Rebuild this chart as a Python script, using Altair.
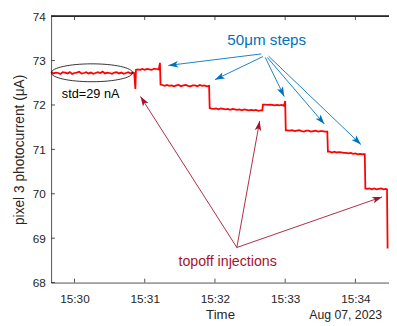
import math
import altair as alt
import pandas as pd

# ---------------- data ----------------
# time in seconds relative to 15:30:00, current in uA
time_s = [
    -20, -18, -16, -14, -12, -10, -8, -6, -4, -2, 0, 2, 4, 6, 8, 10, 12, 14,
    16, 18, 20, 22, 24, 26, 28, 30, 32, 34, 36, 38, 40, 42, 44, 46, 48, 50,
    51, 52, 52.5,
    54, 56, 58, 60, 62, 64, 66, 68, 70, 72,
    73, 73.5,
    75, 77, 79, 81, 83, 85, 87, 89, 91, 93, 95, 97, 99, 101, 103, 105, 107, 109, 111, 113,
    115, 115.5,
    117, 119, 121, 123, 125, 127, 129, 131, 133, 135, 137, 139, 141, 143, 145, 147, 149,
    151, 153, 155, 157, 159,
    160.5, 161,
    163, 165, 167, 169, 171, 173, 175, 177, 179,
    180, 180.5,
    182, 184, 186, 188, 190, 192, 194, 196, 198, 200, 202, 204, 206, 208, 210, 212, 214,
    216, 216.5,
    218, 220, 222, 224, 226, 228, 230, 232, 234, 236, 238, 240, 242, 244, 246,
    248, 248.5,
    250, 252, 254, 256, 258, 260, 262, 264, 266,
    267, 267.5,
]
current_uA = [
    72.74, 72.71, 72.73, 72.72, 72.70, 72.74, 72.73, 72.71, 72.74, 72.70, 72.72, 72.73,
    72.75, 72.71, 72.72, 72.74, 72.71, 72.73, 72.70, 72.72, 72.74, 72.72, 72.75, 72.71,
    72.73, 72.72, 72.70, 72.73, 72.74, 72.71, 72.73, 72.70, 72.72, 72.74, 72.71, 72.73,
    72.72, 72.36, 72.79,
    72.80, 72.79, 72.81, 72.79, 72.81, 72.80, 72.79, 72.82, 72.81, 72.80,
    72.95, 72.46,
    72.45, 72.43, 72.45, 72.43, 72.44, 72.42, 72.44, 72.45, 72.42, 72.44, 72.45, 72.43,
    72.42, 72.44, 72.44, 72.42, 72.45, 72.43, 72.44, 72.42,
    72.43, 71.93,
    71.92, 71.91, 71.92, 71.90, 71.92, 71.91, 71.90, 71.91, 71.89, 71.91, 71.90, 71.89,
    71.90, 71.88, 71.90, 71.89, 71.88, 71.89, 71.88, 71.89, 71.87, 71.88,
    71.88, 72.01,
    72.01, 72.00, 72.01, 72.00, 71.99, 72.00, 71.99, 72.00, 71.98,
    72.09, 71.43,
    71.43, 71.42, 71.43, 71.41, 71.42, 71.43, 71.41, 71.40, 71.42, 71.42, 71.40, 71.41,
    71.42, 71.40, 71.41, 71.41, 71.40,
    71.40, 70.95,
    70.95, 70.93, 70.95, 70.93, 70.94, 70.93, 70.92, 70.92, 70.91, 70.92, 70.90, 70.91,
    70.89, 70.90, 70.89,
    70.89, 70.12,
    70.11, 70.12, 70.10, 70.12, 70.10, 70.11, 70.12, 70.10, 70.11,
    70.10, 68.77,
]

x_tick_values = [0, 60, 120, 180, 240]
x_tick_labels = ["15:30", "15:31", "15:32", "15:33", "15:34"]
y_tick_values = [68, 69, 70, 71, 72, 73, 74]

# annotation anchors (data units)
ellipse_t, ellipse_v = [14.9], [72.725]
steps_start_t = [159.6, 161.0, 163.0, 164.7, 165.8]
steps_start_v = [73.15, 73.09, 73.07, 73.07, 73.10]
steps_end_t = [80.2, 120.0, 179.2, 213.5, 244.7]
steps_end_v = [72.89, 72.57, 72.19, 71.57, 71.11]
inj_start_t = [138.7, 138.7, 138.7]
inj_start_v = [68.79, 68.79, 68.79]
inj_end_t = [56.4, 158.2, 262.8]
inj_end_v = [72.19, 71.64, 69.93]

# ---------------- layout ----------------
W, H = 345, 272
T0, T1 = -20, 268.7
Y0, Y1 = 68, 74
SX = W / (T1 - T0)
SY = H / (Y1 - Y0)

FONT = "Liberation Sans"
AX = "#262626"
BLUE = "#0072BD"
DRED = "#A2142F"

xs = alt.Scale(domain=[T0, T1], nice=False, zero=False)
ys = alt.Scale(domain=[Y0, Y1], nice=False, zero=False)

label_expr = " : ".join(
    f"datum.value == {v} ? '{l}'" for v, l in zip(x_tick_values, x_tick_labels)
) + " : ''"

df = pd.DataFrame({"t": time_s, "v": current_uA, "i": list(range(len(time_s)))})

trace = alt.Chart(df).mark_line(color="#FF0000", strokeWidth=1.8, clip=True).encode(
    x=alt.X("t:Q", scale=xs, axis=alt.Axis(
        values=x_tick_values, labelExpr=label_expr, ticks=False, grid=False,
        domainColor=AX, domainWidth=0.8, labelColor=AX, labelFont=FONT,
        labelFontSize=12, labelPadding=11, title="Time", titleFont=FONT,
        titleFontSize=13.5, titleFontWeight="normal", titleColor=AX,
        titleY=37, titleBaseline="alphabetic")),
    y=alt.Y("v:Q", scale=ys, axis=alt.Axis(
        values=y_tick_values, format="d", ticks=False, grid=False,
        domainColor=AX, domainWidth=0.8, labelColor=AX, labelFont=FONT,
        labelFontSize=12, labelPadding=6, title="pixel 3 photocurrent (μA)",
        titleFont=FONT, titleFontSize=14, titleFontWeight="normal",
        titleColor=AX, titlePadding=6)),
    order=alt.Order("i:Q"),
)

xt = pd.DataFrame({"t": x_tick_values})
yt = pd.DataFrame({"v": y_tick_values})
tick_bottom = alt.Chart(xt).mark_rule(color=AX, strokeWidth=0.8).encode(
    x=alt.X("t:Q", scale=xs), y=alt.value(H), y2=alt.value(H - 4))
tick_top = alt.Chart(xt).mark_rule(color=AX, strokeWidth=0.8).encode(
    x=alt.X("t:Q", scale=xs), y=alt.value(0), y2=alt.value(4))
tick_left = alt.Chart(yt).mark_rule(color=AX, strokeWidth=0.8).encode(
    y=alt.Y("v:Q", scale=ys), x=alt.value(0), x2=alt.value(4))
top_border = alt.Chart(xt).mark_rule(color=AX, strokeWidth=0.8).encode(
    x=alt.value(0), x2=alt.value(W), y=alt.value(0))

ell = alt.Chart(pd.DataFrame({"t": ellipse_t, "v": ellipse_v})).mark_point(
    shape="M-1,0 A1,0.22 0 1,0 1,0 A1,0.22 0 1,0 -1,0 Z",
    size=83 * 83, filled=False, color="black", strokeWidth=0.8, opacity=1,
).encode(x=alt.X("t:Q", scale=xs), y=alt.Y("v:Q", scale=ys))


def arrows(t1, v1, t2, v2, color):
    ang = []
    for a, b, c, d in zip(t1, v1, t2, v2):
        dx = (c - a) * SX
        dy = -(d - b) * SY
        ang.append(math.degrees(math.atan2(dx, -dy)) % 360)
    d = pd.DataFrame({"t1": t1, "v1": v1, "t2": t2, "v2": v2, "ang": ang})
    shaft = alt.Chart(d).mark_rule(color=color, strokeWidth=0.9).encode(
        x=alt.X("t1:Q", scale=xs), y=alt.Y("v1:Q", scale=ys),
        x2="t2:Q", y2="v2:Q")
    head = alt.Chart(d).mark_point(
        shape="M0,0 L0.85,2.5 L0,1.9 L-0.85,2.5 Z", size=64, filled=True,
        color=color, opacity=1, strokeWidth=0,
    ).encode(x=alt.X("t2:Q", scale=xs), y=alt.Y("v2:Q", scale=ys),
             angle=alt.Angle("ang:Q", scale=None))
    return shaft + head


blue_arrows = arrows(steps_start_t, steps_start_v, steps_end_t, steps_end_v, BLUE)
red_arrows = arrows(inj_start_t, inj_start_v, inj_end_t, inj_end_v, DRED)


def label(t, v, text, color, size, align="left"):
    return alt.Chart(pd.DataFrame({"t": [t], "v": [v], "s": [text]})).mark_text(
        align=align, baseline="alphabetic", font=FONT, fontSize=size, color=color,
    ).encode(x=alt.X("t:Q", scale=xs), y=alt.Y("v:Q", scale=ys), text="s:N")


txt_std = label(-10.8, 72.154, "std=29 nA", "black", 13)
txt_steps = label(130.6, 73.354, "50μm steps", BLUE, 15.5)
txt_inj = label(88.8, 68.368, "topoff injections", DRED, 14.5)
txt_date = label(262.8, 67.184, "Aug 07, 2023", AX, 12.5, align="right")

chart = alt.layer(
    trace, tick_bottom, tick_top, tick_left, top_border, ell,
    blue_arrows, red_arrows, txt_std, txt_steps, txt_inj, txt_date,
).properties(
    width=W, height=H,
    padding={"left": 44, "top": 5, "right": 0, "bottom": 41},
    autosize=alt.AutoSizeParams(type="none"),
).configure_view(stroke=None)

chart.save("out.html", embed_options={"renderer": "svg", "actions": False})
